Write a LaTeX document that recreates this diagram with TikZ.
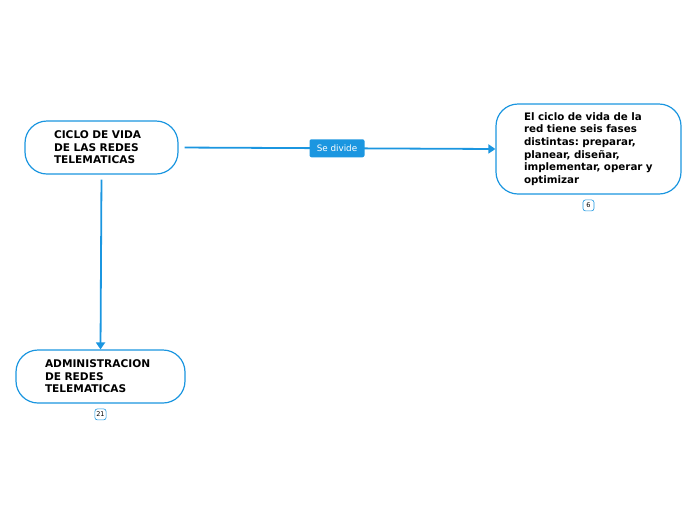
\documentclass[tikz,border=0pt]{standalone}
\usepackage{fontspec}
\setmainfont{DejaVu Sans}
\usetikzlibrary{arrows.meta,positioning}
\definecolor{mmblue}{RGB}{27,150,224}
\frenchspacing
\begin{document}
\begin{tikzpicture}[x=1pt,y=-1pt,
  topic/.style={draw=mmblue,line width=1.2pt,rounded corners=22pt,fill=white,
    align=left,font=\bfseries\fontsize{10.6}{12.6}\selectfont,inner sep=0pt},
  link/.style={draw=mmblue,line width=1.8pt,-{Triangle[length=7pt,width=9pt]}},
  tag/.style={fill=mmblue,text=white,rounded corners=2pt,font=\fontsize{8.8}{10}\selectfont,
    minimum width=55pt,minimum height=18pt,inner sep=1pt},
  badge/.style={draw=mmblue,line width=0.6pt,rounded corners=2.5pt,fill=white,
    font=\fontsize{6.5}{7}\selectfont,minimum height=11pt,minimum width=11pt,inner sep=1.5pt}]
\useasboundingbox (0,0) rectangle (696,520);
\node[topic,minimum width=153pt,minimum height=53pt,text width=95pt] (n1) at (101.5,147.5)
  {CICLO DE VIDA\\DE LAS REDES\\TELEMATICAS};
\node[topic,minimum width=185pt,minimum height=90pt,text width=129pt,
  font=\bfseries\fontsize{10.3}{12.6}\selectfont] (n2) at (588.5,149)
  {El ciclo de vida de la\\red tiene seis fases\\distintas: preparar,\\planear, diseñar,\\implementar, operar y\\optimizar};
\node[topic,minimum width=169pt,minimum height=53pt,text width=111pt] (n3) at (100.5,376.5)
  {ADMINISTRACION\\DE REDES\\TELEMATICAS};
\node[badge,below=5pt of n2] (b2) {6};
\node[badge,below=5pt of n3] (b3) {21};
\draw[link,shorten <=6pt] (n1.east) -- node[tag,pos=0.5] (t1) {Se divide} (n2.west);
\draw[link,shorten <=5pt] (n1.south) -- (n3.north);
\end{tikzpicture}
\end{document}
